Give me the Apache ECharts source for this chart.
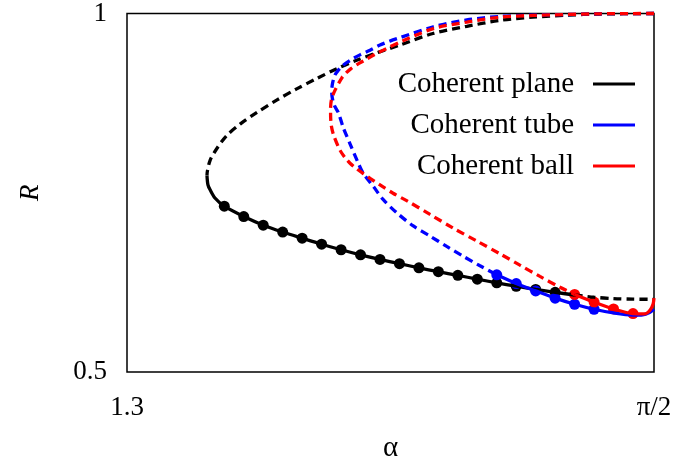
<!DOCTYPE html>
<html>
<head>
<meta charset="utf-8">
<script src="https://cdn.jsdelivr.net/npm/echarts@6/dist/echarts.min.js"></script>
<style>
  html, body { margin: 0; padding: 0; background: #fff; }
  #chart { width: 675px; height: 468px; }
</style>
</head>
<body>
<div id="chart"></div>
<script>
// Order parameter R against alpha for three coherent states.
// Each state: an unstable (dashed) branch and a stable (solid) branch with markers.

const HALF_PI = Math.PI / 2;

const xTickValues = [1.3, HALF_PI];
const xTickLabels = ['1.3', 'π/2'];
const seriesNames = ['Coherent plane', 'Coherent tube', 'Coherent ball'];
const seriesColors = ['#000000', '#0000ff', '#ff0000'];

// Coherent plane
const planeUnstable = [
  [HALF_PI, 1.0], [1.5430, 0.9993], [1.5259, 0.9977], [1.5086, 0.9949], [1.4917, 0.9904],
  [1.4746, 0.9821], [1.4572, 0.9721], [1.4403, 0.9560], [1.4290, 0.9457], [1.4180, 0.9348],
  [1.4078, 0.9231], [1.3975, 0.9093], [1.3872, 0.8949], [1.3769, 0.8791], [1.3666, 0.8617],
  [1.3581, 0.8457], [1.3512, 0.8297], [1.3461, 0.8114], [1.3427, 0.7953], [1.3413, 0.7800],
  [1.3411, 0.7740]
];
const planeStable = [
  [1.3411, 0.7740], [1.3416, 0.7610], [1.3427, 0.7541], [1.3452, 0.7427],
  [1.35, 0.7312], [1.36, 0.7168], [1.37, 0.7048], [1.38, 0.6952], [1.39, 0.6866],
  [1.40, 0.6782], [1.41, 0.6705], [1.42, 0.6634], [1.43, 0.6570], [1.44, 0.6511],
  [1.45, 0.6453], [1.46, 0.6399], [1.47, 0.6348], [1.48, 0.6295], [1.49, 0.6244],
  [1.50, 0.6196], [1.51, 0.6152], [1.52, 0.6111], [1.53, 0.6074]
];
const planeTail = [
  [1.53, 0.6074], [1.54, 0.6043], [1.55, 0.6024], [1.56, 0.6016], [HALF_PI, 0.6014]
];
const planeMarkerAlpha = [1.35, 1.36, 1.37, 1.38, 1.39, 1.40, 1.41, 1.42, 1.43,
  1.44, 1.45, 1.46, 1.47, 1.48, 1.49, 1.50, 1.51, 1.52];

// Coherent tube
const tubeUnstable = [
  [HALF_PI, 1.0], [1.5430, 0.9996], [1.5259, 0.9986], [1.5088, 0.9977], [1.4917, 0.9959],
  [1.4746, 0.9911], [1.4574, 0.9815], [1.4403, 0.9663], [1.4351, 0.9615], [1.4300, 0.9560],
  [1.4249, 0.9488], [1.4197, 0.9423], [1.4161, 0.9371], [1.4131, 0.9320], [1.4105, 0.9265],
  [1.4084, 0.9203], [1.4069, 0.9144],
  [1.4056, 0.9025], [1.4052, 0.8915], [1.4055, 0.8819], [1.4066, 0.8716], [1.4086, 0.8617],
  [1.4111, 0.8411], [1.4146, 0.8183], [1.4189, 0.7908], [1.4214, 0.7771], [1.4266, 0.7587],
  [1.4317, 0.7404], [1.4386, 0.7221], [1.4471, 0.7037], [1.4557, 0.6896], [1.4643, 0.6751],
  [1.4728, 0.6614], [1.4814, 0.6481], [1.49, 0.6356]
];
const tubeStable = [
  [1.49, 0.6356], [1.50, 0.6234], [1.51, 0.6131], [1.52, 0.6030], [1.53, 0.5945],
  [1.54, 0.5875], [1.55, 0.5823], [1.56, 0.5794], [1.565, 0.5798], [1.5685, 0.5830],
  [HALF_PI, 0.5875]
];
const tubeMarkerAlpha = [1.49, 1.50, 1.51, 1.52, 1.53, 1.54];

// Coherent ball
const ballUnstable = [
  [HALF_PI, 1.0], [1.5430, 0.9996], [1.5088, 0.9973], [1.4917, 0.9949], [1.4746, 0.9880],
  [1.4574, 0.9790], [1.4403, 0.9602], [1.4334, 0.9512], [1.4274, 0.9430], [1.4223, 0.9350],
  [1.4182, 0.9288], [1.4151, 0.9231], [1.4125, 0.9169],
  [1.4105, 0.9107], [1.4071, 0.8942], [1.4051, 0.8805], [1.4046, 0.8668], [1.4048, 0.8475],
  [1.4061, 0.8310], [1.4095, 0.8091], [1.4121, 0.7988], [1.4146, 0.7912], [1.4180, 0.7834],
  [1.4214, 0.7768], [1.4249, 0.7702], [1.4300, 0.7610],
  [1.4367, 0.7493], [1.4437, 0.7390], [1.4557, 0.7198], [1.4677, 0.7005], [1.4797, 0.6827],
  [1.4917, 0.6648], [1.5019, 0.6490], [1.5122, 0.6333], [1.5225, 0.6181], [1.53, 0.6082]
];
const ballStable = [
  [1.53, 0.6082], [1.54, 0.5975], [1.55, 0.5880], [1.56, 0.5815], [1.5662, 0.5812],
  [1.5688, 0.5865], [1.5703, 0.5945], [HALF_PI, 0.6030]
];
const ballMarkerAlpha = [1.53, 1.54, 1.55, 1.56];

const FONT = 'Liberation Serif';

function markers(points, alphas) {
  return points.filter(p => alphas.some(a => Math.abs(a - p[0]) < 1e-9));
}

function dashed(name, color, data) {
  return {
    name: name, type: 'line', data: data, smooth: 0.3, showSymbol: false,
    color: color, lineStyle: { color: color, width: 3.3, type: [8, 5] },
    silent: true, clip: false
  };
}
function solid(name, color, data) {
  return {
    name: name, type: 'line', data: data, smooth: 0.3, showSymbol: false,
    color: color, lineStyle: { color: color, width: 3.3, type: 'solid' },
    silent: true, clip: false
  };
}
function dots(name, color, data) {
  return {
    name: name, type: 'scatter', data: data, symbol: 'circle', symbolSize: 11,
    color: color, itemStyle: { color: color, opacity: 1 }, silent: true
  };
}

const chart = echarts.init(document.getElementById('chart'), null, { renderer: 'canvas' });

chart.setOption({
  animation: false,
  backgroundColor: '#ffffff',
  grid: {
    left: 127, top: 11, width: 527, height: 364,
    show: true, borderColor: '#000', borderWidth: 1.5, backgroundColor: 'transparent'
  },
  xAxis: {
    type: 'value', min: 1.3, max: HALF_PI,
    name: 'α', nameLocation: 'middle', nameGap: 62,
    nameTextStyle: { fontFamily: FONT, fontSize: 29, color: '#000' },
    axisLine: { show: false }, axisTick: { show: false }, splitLine: { show: false },
    axisLabel: {
      customValues: xTickValues,
      fontFamily: FONT, fontSize: 27, color: '#000', margin: 22,
      formatter: v => {
        const i = xTickValues.findIndex(t => Math.abs(t - v) < 1e-6);
        return i >= 0 ? xTickLabels[i] : '';
      }
    }
  },
  yAxis: {
    type: 'value', min: 0.5, max: 1, interval: 0.5,
    name: 'R', nameLocation: 'middle', nameGap: 83, nameRotate: 90,
    nameTextStyle: { fontFamily: FONT, fontSize: 27, fontStyle: 'italic', color: '#000' },
    axisLine: { show: false }, axisTick: { show: false }, splitLine: { show: false },
    axisLabel: { fontFamily: FONT, fontSize: 27, color: '#000', margin: 20 }
  },
  legend: {
    orient: 'vertical', right: 40, top: 69, align: 'right', padding: 0,
    itemWidth: 42, itemHeight: 3, itemGap: 11, icon: 'rect',
    selectedMode: false,
    data: seriesNames,
    textStyle: { fontFamily: FONT, fontSize: 29, color: '#000', padding: [0, 14, 0, 0], lineHeight: 30 }
  },
  series: [
    dashed('plane-unstable', seriesColors[0], planeUnstable),
    solid(seriesNames[0], seriesColors[0], planeStable),
    dashed('plane-tail', seriesColors[0], planeTail),
    dots('plane-dots', seriesColors[0], markers(planeStable, planeMarkerAlpha)),

    dashed('tube-unstable', seriesColors[1], tubeUnstable),
    solid(seriesNames[1], seriesColors[1], tubeStable),
    dots('tube-dots', seriesColors[1], markers(tubeStable, tubeMarkerAlpha)),

    dashed('ball-unstable', seriesColors[2], ballUnstable),
    solid(seriesNames[2], seriesColors[2], ballStable),
    dots('ball-dots', seriesColors[2], markers(ballStable, ballMarkerAlpha))
  ]
});
</script>
</body>
</html>
